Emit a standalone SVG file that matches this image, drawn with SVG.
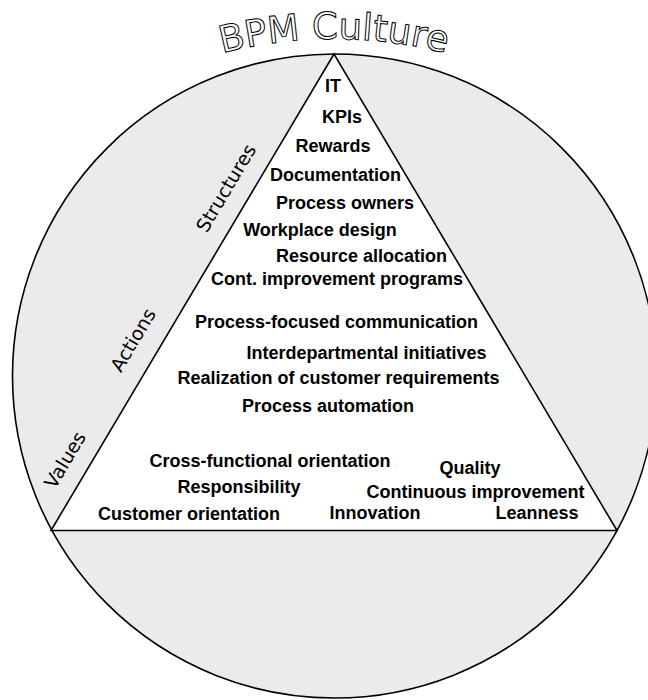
<svg xmlns="http://www.w3.org/2000/svg" width="648" height="700" viewBox="0 0 648 700">
  <style>
    .b { font-family: "Liberation Sans", Arial, sans-serif; font-weight: bold; font-size: 18px; fill: #000; text-anchor: middle; }
    .side { font-family: "DejaVu Sans", sans-serif; font-size: 19px; fill: #000; text-anchor: middle; }
    .title { font-family: "DejaVu Sans", sans-serif; font-size: 37px; fill: #fff; stroke: #000; stroke-width: 1; }
  </style>
  <defs>
    <path id="titleArc" d="M -55.7 264 A 450 450 0 0 1 723.7 264"/>
  </defs>
  <rect width="648" height="700" fill="#fff"/>
  <g id="circle">
    <circle cx="334.5" cy="376" r="322" fill="#ebebeb" stroke="#000" stroke-width="1.6"/>
  </g>
  <g id="triangle">
    <polygon points="334,54 51,530.5 617,530.5" fill="#fff" stroke="#000" stroke-width="1.6" stroke-linejoin="miter"/>
  </g>
  <g id="title">
    <text class="title"><textPath href="#titleArc" startOffset="50%" text-anchor="middle">BPM Culture</textPath></text>
  </g>
  <g id="side-labels">
    <text class="side" transform="translate(226,188) rotate(-59.3)" dy="0.35em">Structures</text>
    <text class="side" transform="translate(133,340) rotate(-59.3)" dy="0.35em">Actions</text>
    <text class="side" transform="translate(65,460) rotate(-59.3)" dy="0.35em">Values</text>
  </g>
  <g id="structures">
    <text class="b" x="333" y="92">IT</text>
    <text class="b" x="342" y="123">KPIs</text>
    <text class="b" x="333" y="152">Rewards</text>
    <text class="b" x="335.5" y="181">Documentation</text>
    <text class="b" x="345" y="209">Process owners</text>
    <text class="b" x="320" y="236">Workplace design</text>
    <text class="b" x="361.5" y="262">Resource allocation</text>
    <text class="b" x="337" y="284.5">Cont. improvement programs</text>
  </g>
  <g id="actions">
    <text class="b" x="336.5" y="328">Process-focused communication</text>
    <text class="b" x="366.5" y="359">Interdepartmental initiatives</text>
    <text class="b" x="338.5" y="384">Realization of customer requirements</text>
    <text class="b" x="328" y="412">Process automation</text>
  </g>
  <g id="values">
    <text class="b" x="270" y="467">Cross-functional orientation</text>
    <text class="b" x="470" y="474">Quality</text>
    <text class="b" x="239" y="493">Responsibility</text>
    <text class="b" x="475.5" y="498">Continuous improvement</text>
    <text class="b" x="189" y="520">Customer orientation</text>
    <text class="b" x="375" y="519">Innovation</text>
    <text class="b" x="537" y="519">Leanness</text>
  </g>
</svg>
